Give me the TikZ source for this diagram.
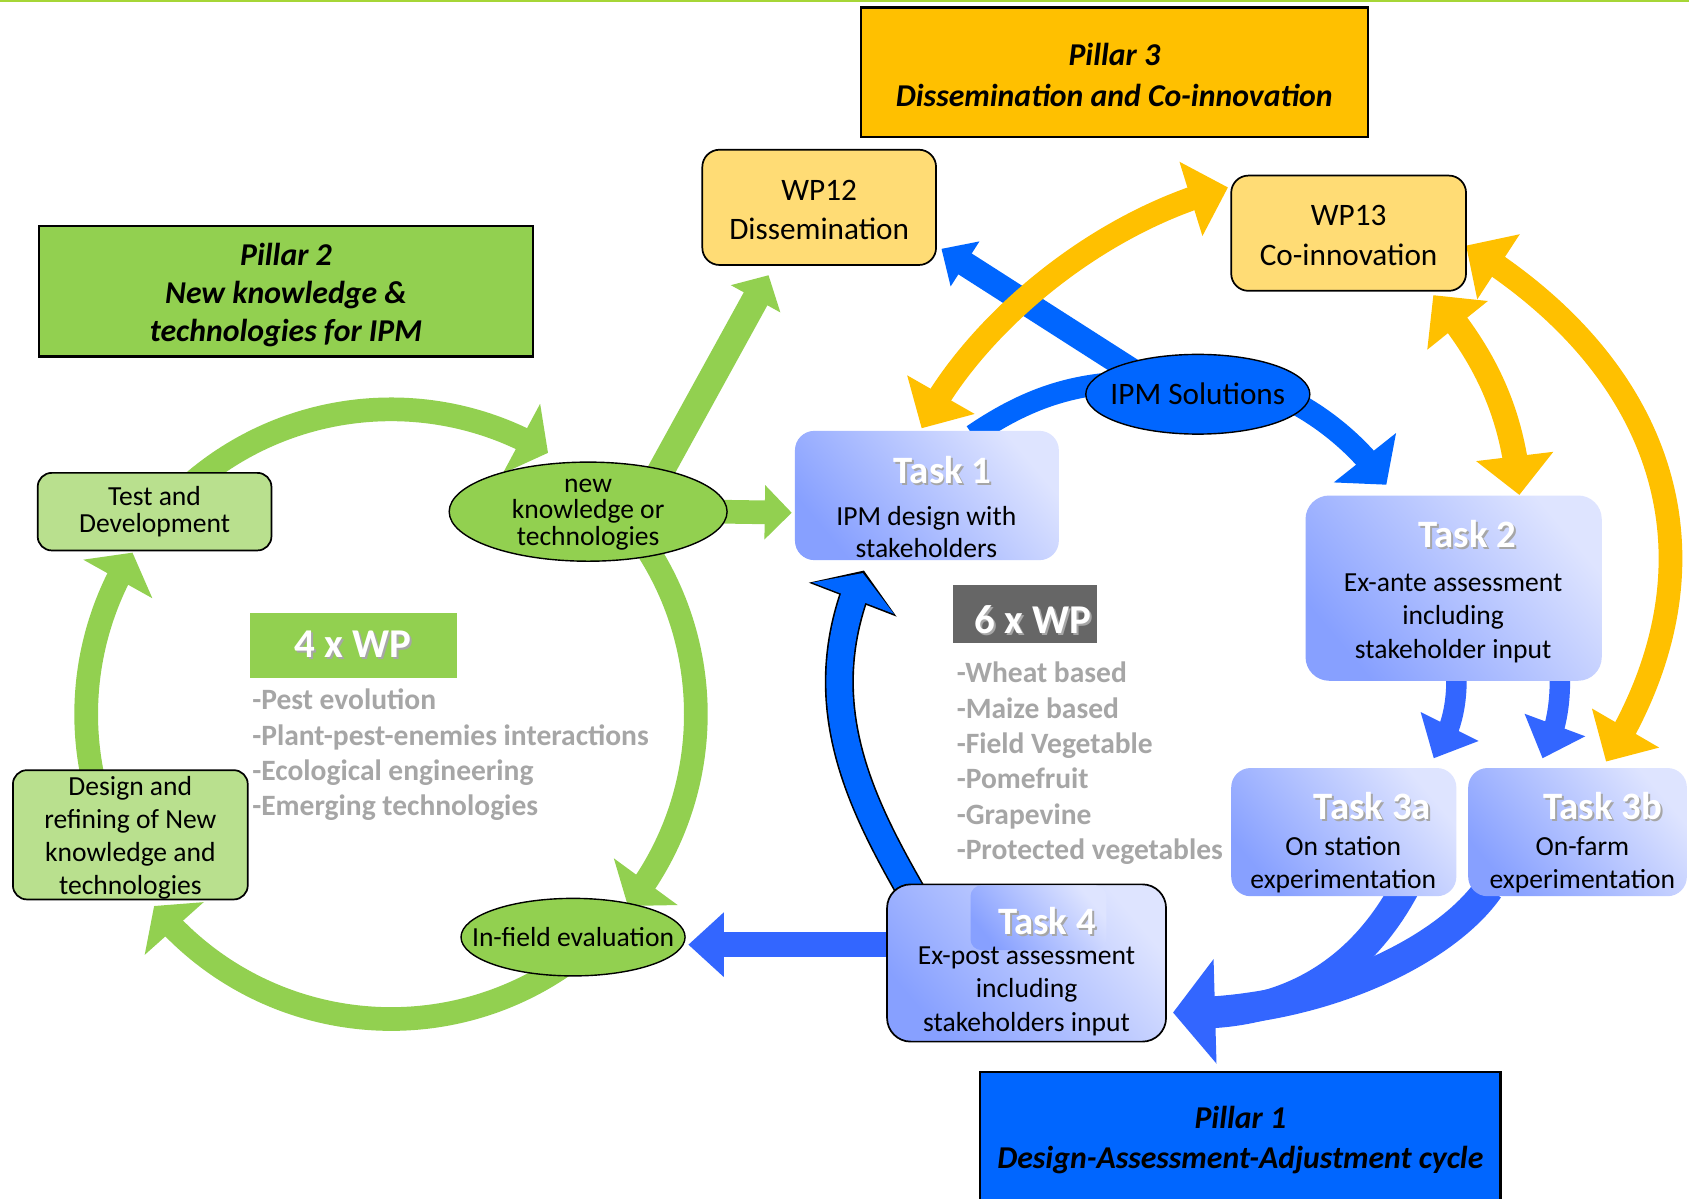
\documentclass[tikz,border=0pt]{standalone}
\usepackage{fontspec}
\setmainfont{Carlito}
\usetikzlibrary{arrows.meta,bending,calc,shapes.geometric}
\definecolor{grn}{HTML}{92D050}
\definecolor{lgrn}{HTML}{B9E08E}
\definecolor{wpy}{HTML}{FFDC75}
\definecolor{orng}{HTML}{FFC000}
\definecolor{bluea}{HTML}{0066FF}
\definecolor{blueb}{HTML}{3366FF}
\definecolor{greyt}{HTML}{A6A6A6}
\definecolor{darkg}{HTML}{666666}
\definecolor{topl}{HTML}{A6D636}
\definecolor{tdark}{RGB}{135,160,255}
\definecolor{tlight}{RGB}{222,228,255}
\newcommand{\shtext}[1]{\makebox[0pt][l]{\kern1.8pt\raisebox{-1.8pt}{\textcolor{black!35}{#1}}}#1}
\pgfdeclarelayer{bglayer}
\pgfdeclarelayer{arrlayer}
\pgfsetlayers{bglayer,arrlayer,main}
\begin{document}
\begin{tikzpicture}[x=1pt,y=-1pt,
 pillar/.style={draw=black,line width=2pt,align=center,inner sep=0pt,font=\bfseries\itshape\fontsize{29.5}{37}\selectfont},
 wpbox/.style={draw=black,line width=1.6pt,rounded corners=16pt,fill=wpy,inner sep=0pt,minimum width=217pt,minimum height=107pt},
 wptext/.style={align=center,inner sep=0pt,font=\fontsize{29}{37}\selectfont},
 gbox/.style={draw=black,line width=1.6pt,rounded corners=13pt,fill=lgrn,align=center,inner sep=0pt},
 gell/.style={ellipse,draw=black,line width=1.3pt,fill=grn,align=center,font=\fontsize{25.6}{24.5}\selectfont},
 taskbox/.style={rounded corners=18pt,top color=tlight,bottom color=tdark,shading angle=-50,inner sep=0pt},
 tasktitle/.style={text=white,inner sep=0pt,font=\bfseries\fontsize{36}{40}\selectfont},
 tasktext/.style={align=center,inner sep=0pt,font=\fontsize{25.6}{31}\selectfont},
 wpcount/.style={text=white,inner sep=0pt,font=\bfseries\fontsize{38}{40}\selectfont},
 greylist/.style={text=greyt,align=left,inner sep=0pt,anchor=west,font=\bfseries\fontsize{27.4}{32.8}\selectfont},
 garr/.style={grn,line width=22pt,-{Triangle[width=72pt,length=28pt]}},
 yarr/.style={orng,line width=22pt,{Triangle[width=70pt,length=36pt]}-{Triangle[width=70pt,length=36pt]}},
]
\useasboundingbox (0,0) rectangle (1568,1113);
\begin{pgfonlayer}{bglayer}
\fill[white] (0,0) rectangle (1568,1113);
\draw[topl,line width=2.5pt] (0,1) -- (1568,1);
\end{pgfonlayer}

% ---------- nodes ----------
\node[pillar,fill=orng,minimum width=471pt,minimum height=120pt] (p3) at (1034.5,67) {};
\node[pillar,draw=none,font=\bfseries\itshape\fontsize{29.5}{38}\selectfont] (p3t) at (1034.5,69.5) {Pillar 3\\Dissemination and Co-innovation};
\node[pillar,fill=grn,minimum width=459pt,minimum height=121pt] (p2) at (265.5,270.5) {};
\node[pillar,draw=none,font=\bfseries\itshape\fontsize{29.5}{35}\selectfont] (p2t) at (265.5,274) {Pillar 2\\New knowledge \&\\technologies for IPM};
\node[pillar,fill=bluea,minimum width=483pt,minimum height=126pt] (p1) at (1151.5,1058) {Pillar 1\\Design-Assessment-Adjustment cycle};

\node[wpbox] (wp12) at (760.5,192.5) {};
\node[wptext] (wp12t) at (760.5,195) {WP12\\Dissemination};
\node[wpbox,minimum width=218pt] (wp13) at (1252,216.5) {};
\node[wptext] (wp13t) at (1252,219) {WP13\\Co-innovation};

\node[gbox,minimum width=217pt,minimum height=72pt,font=\fontsize{25.6}{25}\selectfont] (td) at (143.5,475) {Test and\\Development};
\node[gbox,minimum width=218pt,minimum height=120pt] (dr) at (121,775) {};
\node[align=center,inner sep=0pt,font=\fontsize{25.6}{30.7}\selectfont] (drt) at (121,778) {Design and\\refining of New\\knowledge and\\technologies};

\node[gell,minimum width=258pt,minimum height=92pt,inner xsep=-20pt,inner ysep=-14pt] (nk) at (546,475) {};
\node[align=center,inner sep=0pt,font=\fontsize{25.6}{24.5}\selectfont] (nkt) at (546,477.5) {new\\knowledge or\\technologies};
\node[gell,minimum width=208pt,minimum height=72pt,inner xsep=-25pt,inner ysep=-6pt] (inf) at (532,870) {In-field evaluation};
\node[gell,fill=bluea,minimum width=208pt,minimum height=74pt,inner xsep=-20pt,inner ysep=-6pt,font=\fontsize{29}{30}\selectfont] (ipm) at (1112,366) {IPM Solutions};

\node[taskbox,minimum width=245pt,minimum height=120pt] (t1) at (860.5,460) {};
\node[tasktitle] (t1h) at (875,437) {\shtext{Task 1}};
\node[tasktext,font=\fontsize{25.6}{29}\selectfont] (t1b) at (860,494) {IPM design with\\stakeholders};

\node[taskbox,minimum width=275pt,minimum height=172pt,rounded corners=22pt] (t2) at (1349.5,546) {};
\node[tasktitle] (t2h) at (1362,497) {\shtext{Task 2}};
\node[tasktext] (t2b) at (1349,574) {Ex-ante assessment\\including\\stakeholder input};

\node[taskbox,minimum width=209pt,minimum height=119pt] (t3a) at (1247.5,772.5) {};
\node[tasktitle] (t3ah) at (1274,749) {\shtext{Task 3a}};
\node[tasktext] (t3ab) at (1247,803) {On station\\experimentation};

\node[taskbox,minimum width=203pt,minimum height=119pt] (t3b) at (1464.5,772.5) {};
\node[tasktitle] (t3bh) at (1488,749) {\shtext{Task 3b}};
\node[tasktext] (t3bb) at (1469,803) {On-farm\\experimentation};

\node[taskbox,draw=black,line width=1.6pt,minimum width=259pt,minimum height=146pt,rounded corners=22pt] (t4) at (953,894) {};
\node[taskbox,rounded corners=10pt,minimum width=126pt,minimum height=60pt] (t4p) at (964,852) {};
\node[tasktitle] (t4h) at (972,856) {\shtext{Task 4}};
\node[tasktext] (t4b) at (953,920) {Ex-post assessment\\including\\stakeholders input};

\node[fill=grn,minimum width=192pt,minimum height=60pt,wpcount] (wp4) at (328,599) {\shtext{4 x WP}};
\node[fill=darkg,minimum width=133pt,minimum height=54pt,inner sep=0pt] (wp6) at (951.5,570) {};
\node[wpcount] (wp6t) at (959,576) {\shtext{6 x WP}};

\node[greylist] (l4) at (234,701) {-Pest evolution\\-Plant-pest-enemies interactions\\-Ecological engineering\\-Emerging technologies};
\node[greylist] (l6) at (888,708.5) {-Wheat based\\-Maize based\\-Field Vegetable\\-Pomefruit\\-Grapevine\\-Protected vegetables};

% ---------- coordinates ----------
\coordinate (rc) at (363,663);
\coordinate (g5s) at (612,440);
\coordinate (g5e) at (713.5,255.5);
\coordinate (g6e) at (735,476);
\coordinate (b1s) at (903,404);
\coordinate (b1m) at (1040,355);
\coordinate (b1n) at (1170,360);
\coordinate (b1e) at (1287,450);
\coordinate (b2s) at (1060,350);
\coordinate (b2e) at (874,231);
\coordinate (b3s) at (850,835);
\coordinate (b3e) at (801,532);
\coordinate (b4s) at (830,877);
\coordinate (b4e) at (639,877);
\coordinate (b5s) at (1352,625);
\coordinate (b5e) at (1331,704);
\coordinate (b6s) at (1448,625);
\coordinate (b6e) at (1432,704);
\coordinate (b7as) at (1304,825);
\coordinate (b7m) at (1126,941);
\coordinate (b7bs) at (1382,825);
\coordinate (b7e) at (1089,940);
\coordinate (y1a) at (855.6,397.6);
\coordinate (y1b) at (1140,174);
\coordinate (y2a) at (1330.6,274);
\coordinate (y2b) at (1410.5,459.5);
\coordinate (y3a) at (1361,228);
\coordinate (y3b) at (1491,707);

% ---------- connectors ----------
\begin{pgfonlayer}{arrlayer}
% green cycle
\draw[garr] ($(rc)+(-132:283)$) arc[start angle=-132,end angle=-59,radius=283];
\draw[garr] ($(rc)+(-36:283)$) arc[start angle=-36,end angle=39,radius=283];
\draw[garr] ($(rc)+(55:283)$) arc[start angle=55,end angle=141,radius=283];
\draw[garr] ($(rc)+(165:283)$) arc[start angle=165,end angle=212,radius=283];
\draw[grn,line width=25pt,-{Triangle[width=51pt,length=25pt]}] (g5s) -- (g5e);
\draw[grn,line width=22pt,-{Triangle[width=49pt,length=25pt]}] ([xshift=-8pt]nk.east) -- (g6e);
% blue
\draw[bluea,line width=20pt] (b1s) .. controls (950,372) and (990,358) .. (b1m);
\draw[bluea,line width=21pt,-{Triangle[width=72pt,length=32pt]}] (b1n) .. controls (1215,375) and (1260,410) .. (b1e);
\draw[bluea,line width=23pt,-{Triangle[width=48pt,length=26pt]}] (b2s) -- (b2e);
\draw[black,line width=27pt,shorten >=-2.5pt,-{Triangle[width=86pt,length=29pt]}] (b3s) .. controls (800,748) and (749,652) .. (b3e);
\draw[bluea,line width=24pt,-{Triangle[width=80pt,length=25pt]}] (b3s) .. controls (800,748) and (749,652) .. (b3e);
\draw[blueb,line width=23pt,-{Triangle[width=58pt,length=33pt]}] (b4s) -- (b4e);
\draw[blueb,line width=19pt,-{Triangle[width=58pt,length=33pt]}] (b5s) .. controls (1353,655) and (1347,680) .. (b5e);
\draw[blueb,line width=19pt,-{Triangle[width=58pt,length=33pt]}] (b6s) .. controls (1449,655) and (1444,680) .. (b6e);
\draw[blueb,line width=27pt] (b7as) .. controls (1265,897) and (1205,936) .. (b7m);
\draw[blueb,line width=28pt,-{Triangle[width=95pt,length=39pt]}] (b7bs) .. controls (1340,885) and (1220,942) .. (b7e);
% yellow
\draw[yarr] (y1a) .. controls (899.6,307.6) and (1013.9,206.5) .. (y1b);
\draw[yarr,line width=23pt] (y2a) .. controls (1375,325) and (1405,380) .. (y2b);
\draw[yarr] (y3a) .. controls (1553,345) and (1605,527) .. (y3b);
\end{pgfonlayer}
\end{tikzpicture}
\end{document}
